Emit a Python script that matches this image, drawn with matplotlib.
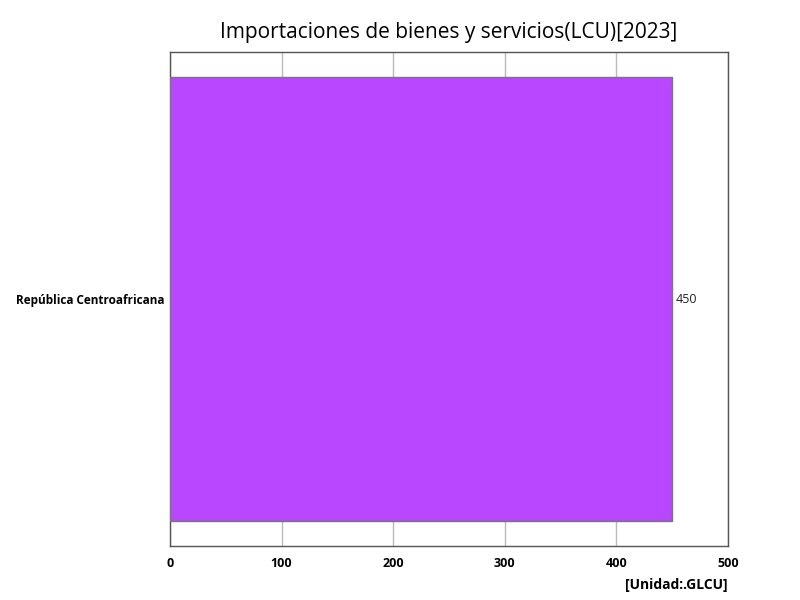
import matplotlib
matplotlib.use('Agg')
import matplotlib.pyplot as plt

paises = ['República Centroafricana']
valores = [450]
ticks_x = [0, 100, 200, 300, 400, 500]

plt.rcParams['font.family'] = ['Open Sans', 'DejaVu Sans']

fig = plt.figure(figsize=(8, 6), dpi=100)
ax = fig.add_axes([0.2125, 0.09, 0.6975, 0.823])

ax.barh(paises, valores, height=0.8, color='#b847ff', edgecolor='#777777', linewidth=1, zorder=3)
for i, v in enumerate(valores):
    ax.text(v + 3, i, f'{v}', va='center', ha='left', fontsize=9, color='#222222')

ax.set_xlim(0, 500)
ax.set_ylim(-0.445, 0.445)
ax.set_xticks(ticks_x)
ax.set_xticklabels([str(t) for t in ticks_x], fontweight='bold', fontsize=9)
for lab in ax.get_yticklabels():
    lab.set_fontweight('bold')
    lab.set_fontsize(8.5)
ax.tick_params(axis='x', length=0, pad=8)
ax.tick_params(axis='y', length=0, pad=4)
ax.grid(axis='x', color='#bbbbbb', linewidth=1, zorder=0)
for s in ax.spines.values():
    s.set_color('#555555')
    s.set_linewidth(1)

ax.set_title('Importaciones de bienes y servicios(LCU)[2023]', fontsize=15, pad=10)
fig.text(0.91, 0.018, '[Unidad:.GLCU]', ha='right', fontsize=10, fontweight='bold')

fig.savefig('out.png', dpi=100)
